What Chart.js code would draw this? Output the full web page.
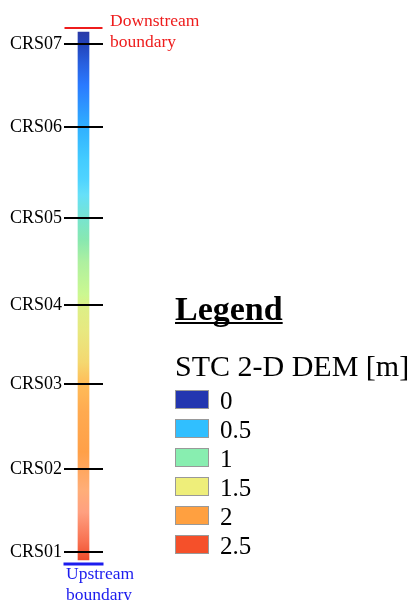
<!DOCTYPE html>
<html>
<head>
<meta charset="utf-8">
<script src="https://cdn.jsdelivr.net/npm/chart.js@4/dist/chart.umd.min.js"></script>
<style>
  body { margin: 0; background: #fff; }
  canvas { display: block; }
</style>
</head>
<body>
<canvas id="reach" width="414" height="600"></canvas>
<script>
// Cross sections along the reach (station, bottom = CRS01)
const crsNames = ['CRS01', 'CRS02', 'CRS03', 'CRS04', 'CRS05', 'CRS06', 'CRS07'];
const crsStation = [0, 83, 168, 247, 334, 425, 508];

// Extent of the reach and its boundaries
const reachSpan = [-8, 520];
const downstreamStation = 524;
const upstreamStation = -12;

// Legend classes (DEM values in m)
const legendValues = ['0', '0.5', '1', '1.5', '2', '2.5'];
const legendColors = ['#2336b0', '#30bfff', '#88eeb0', '#eeee7a', '#ffa040', '#f5502a'];

// Colour along the reach, keyed by station
const rampStations = [-8, 10, 40, 62, 100, 140, 168, 190, 220, 247, 257, 290, 312, 334, 357, 372, 392, 425, 467, 488, 508, 520];
const rampColors = ['#ee4c2c', '#f87050', '#ffa080', '#ffae78', '#ffa048', '#ffaa50', '#ffbc58', '#f4d870',
  '#e8e880', '#dcf088', '#ccf890', '#aef0a0', '#88e8b0', '#77e4d0', '#66e0f8', '#50d4ff', '#44ccff',
  '#30b0ff', '#2a7aff', '#2860e0', '#2244bb', '#2a3aa8'];

function barGradient(context) {
  const chart = context.chart;
  if (!chart.chartArea) return legendColors[0];
  const y = chart.scales.y;
  const span = reachSpan[1] - reachSpan[0];
  const g = chart.ctx.createLinearGradient(0, y.getPixelForValue(reachSpan[0]), 0, y.getPixelForValue(reachSpan[1]));
  rampStations.forEach((s, i) => g.addColorStop((s - reachSpan[0]) / span, rampColors[i]));
  return g;
}

// Boundary captions and the legend block
const annotations = {
  id: 'annotations',
  afterDraw(chart) {
    const ctx = chart.ctx;
    const y = chart.scales.y;
    ctx.save();
    ctx.textAlign = 'left';
    ctx.textBaseline = 'alphabetic';

    const yDown = y.getPixelForValue(downstreamStation);
    ctx.fillStyle = '#ee1c1c';
    ctx.font = '17.5px "Liberation Serif"';
    ctx.fillText('Downstream', 110, yDown - 2);
    ctx.fillText('boundary', 110, yDown + 19);

    const yUp = y.getPixelForValue(upstreamStation);
    ctx.fillStyle = '#1c1cee';
    ctx.fillText('Upstream', 66, yUp + 15);
    ctx.fillText('boundary', 66, yUp + 36);

    // legend
    ctx.fillStyle = '#000';
    ctx.font = 'bold 34px "Liberation Serif"';
    ctx.fillText('Legend', 175, 320);
    const w = ctx.measureText('Legend').width;
    ctx.fillRect(175, 322, w, 2);

    ctx.font = '30px "Liberation Serif"';
    ctx.fillText('STC 2-D DEM [m]', 175, 376);

    ctx.font = '25px "Liberation Serif"';
    legendValues.forEach((v, i) => {
      const top = 390 + i * 29;
      ctx.fillStyle = legendColors[i];
      ctx.fillRect(175, top, 34, 19);
      ctx.strokeStyle = '#999';
      ctx.lineWidth = 1;
      ctx.strokeRect(175.5, top + 0.5, 33, 18);
      ctx.fillStyle = '#000';
      ctx.fillText(v, 220, top + 19);
    });
    ctx.restore();
  }
};

new Chart(document.getElementById('reach'), {
  data: {
    labels: ['reach'],
    datasets: [
      {
        type: 'bar',
        data: [reachSpan],
        backgroundColor: barGradient,
        barThickness: 11,
        order: 2
      },
      {
        type: 'line',
        data: [downstreamStation],
        showLine: false,
        pointStyle: 'line',
        pointRadius: 19,
        pointHoverRadius: 19,
        borderColor: '#ee1c1c',
        borderWidth: 2,
        clip: false,
        order: 1
      },
      {
        type: 'line',
        data: [upstreamStation],
        showLine: false,
        pointStyle: 'line',
        pointRadius: 20,
        pointHoverRadius: 20,
        borderColor: '#1c1cee',
        borderWidth: 3,
        clip: false,
        order: 1
      }
    ]
  },
  options: {
    responsive: false,
    animation: false,
    layout: { padding: { left: 0, right: 311, top: 28, bottom: 36 } },
    plugins: { legend: { display: false }, tooltip: { enabled: false } },
    scales: {
      x: { display: false },
      y: {
        min: upstreamStation,
        max: downstreamStation,
        border: { display: false },
        grid: { color: '#000', lineWidth: 2, drawTicks: false, z: 1 },
        afterBuildTicks: scale => { scale.ticks = crsStation.map(v => ({ value: v })); },
        afterFit: scale => { scale.width = 64; },
        ticks: {
          padding: 2,
          color: '#000',
          font: { family: 'Liberation Serif', size: 18 },
          callback: (value, index) => crsNames[index]
        }
      }
    }
  },
  plugins: [annotations]
});
</script>
</body>
</html>
